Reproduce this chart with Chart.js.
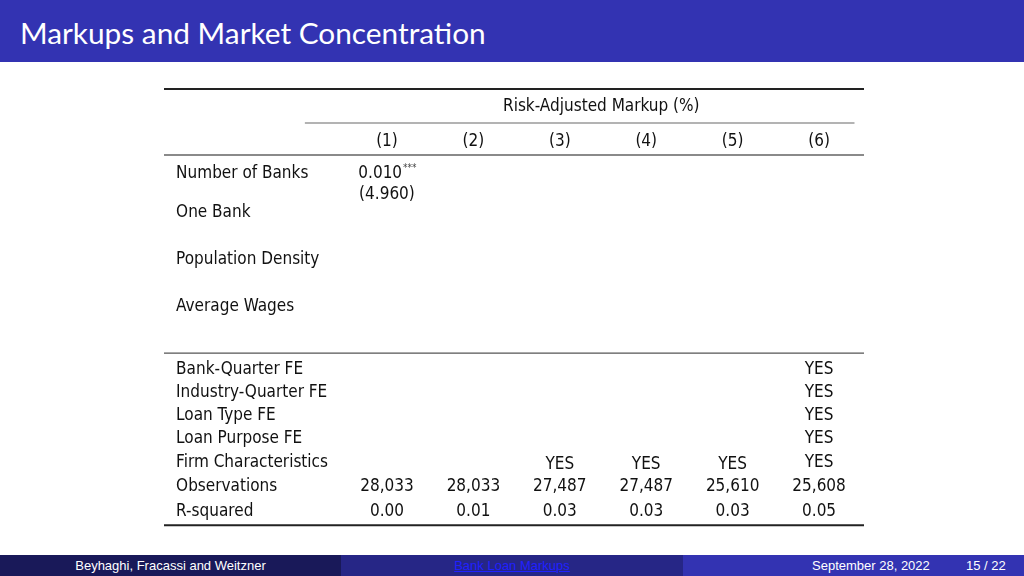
<!DOCTYPE html>
<html>
<head>
<meta charset="utf-8">
<script src="https://cdn.jsdelivr.net/npm/chart.js@4.4.0/dist/chart.umd.min.js"></script>
<style>
  body { margin: 0; width: 1024px; height: 576px; background: #fff; position: relative; overflow: hidden; }
  #head { position: absolute; left: 0; top: 0; width: 1024px; height: 62px; background: #3333b2; }
  #head span { position: absolute; left: 20px; top: 15px; color: #fff; font: 29.8px Lato, "Open Sans", sans-serif; }
  #wrap { position: absolute; left: 164px; top: 80px; width: 700px; height: 460px; }
  .foot { position: absolute; top: 555px; height: 21px; color: #fff; font: 13px "Liberation Sans", Arial, sans-serif; line-height: 21px; }
  #f1 { left: 0; width: 341px; background: #191959; text-align: center; }
  #f2 { left: 341px; width: 342px; background: #262686; text-align: center; }
  #f2 a { color: #2020ff; text-decoration: underline; }
  #f3 { left: 683px; width: 341px; background: #3333b2; }
</style>
</head>
<body>
<div id="head"><span>Markups and Market Concentration</span></div>
<div id="wrap"><canvas id="tbl" width="700" height="460"></canvas></div>
<div class="foot" id="f1">Beyhaghi, Fracassi and Weitzner</div>
<div class="foot" id="f2"><a>Bank Loan Markups</a></div>
<div class="foot" id="f3"><span style="position:absolute;left:129px">September 28, 2022</span><span style="position:absolute;left:283px">15 / 22</span></div>
<script>
// table content
const depVar = "Risk-Adjusted Markup (%)";
const columns = ["(1)", "(2)", "(3)", "(4)", "(5)", "(6)"];
const coefLabels = ["Number of Banks", "One Bank", "Population Density", "Average Wages"];
const numBanksCoef = ["0.010", "", "", "", "", ""];
const numBanksStars = ["***", "", "", "", "", ""];
const numBanksTstat = ["(4.960)", "", "", "", "", ""];
const controlLabels = ["Bank-Quarter FE", "Industry-Quarter FE", "Loan Type FE", "Loan Purpose FE", "Firm Characteristics", "Observations", "R-squared"];
const bankQuarterFE = ["", "", "", "", "", "YES"];
const industryQuarterFE = ["", "", "", "", "", "YES"];
const loanTypeFE = ["", "", "", "", "", "YES"];
const loanPurposeFE = ["", "", "", "", "", "YES"];
const firmChars = ["", "", "YES", "YES", "YES", "YES"];
const observations = [28033, 28033, 27487, 27487, 25610, 25608];
const rSquared = [0.00, 0.01, 0.03, 0.03, 0.03, 0.05];

// row positions (in table line units, top down)
const rowTitle = 1.06, rowCols = 2.55;
const rowCoef = [3.91, 5.57, 7.57, 9.57];
const rowTstat = 4.81;
const rowControls = [12.26, 13.23, 14.21, 15.19, 16.21, 17.23, 18.30];
const rules = [0.38, 3.19, 11.62, 18.94];
const cmidRule = 1.83;

const labelX = -1.44;
const colX = columns.map((c, i) => i + 1);
const font = '17px "DejaVu Sans Condensed", "DejaVu Sans", sans-serif';

function textRow(texts, y, opts) {
  return Object.assign({
    data: colX.map(x => ({ x: x, y: y })),
    texts: texts,
    pointRadius: 0,
    showLine: false
  }, opts || {});
}
function ruleLine(y, x0, x1, color, width) {
  return {
    data: [{ x: x0, y: y }, { x: x1, y: y }],
    showLine: true, pointRadius: 0, borderColor: color, borderWidth: width
  };
}

const datasets = [];
rules.forEach((y, i) => {
  const color = i === 1 ? "#8a8a8a" : (i === 2 ? "#555" : "#222");
  const w = i === 2 ? 1.2 : 2;
  datasets.push(ruleLine(y, -1.58, 6.52, color, w));
});
datasets.push(ruleLine(cmidRule, 0.05, 6.41, "#9a9a9a", 1.5));
datasets.push({ data: [{ x: 3.48, y: rowTitle }], texts: [depVar], pointRadius: 0 });
datasets.push(textRow(columns, rowCols));
datasets.push({ data: coefLabels.map((l, i) => ({ x: labelX, y: rowCoef[i] })), texts: coefLabels, align: "left", pointRadius: 0 });
datasets.push(textRow(numBanksCoef, rowCoef[0], { sups: numBanksStars }));
datasets.push(textRow(numBanksTstat, rowTstat));
datasets.push({ data: controlLabels.map((l, i) => ({ x: labelX, y: rowControls[i] })), texts: controlLabels, align: "left", pointRadius: 0 });
[bankQuarterFE, industryQuarterFE, loanTypeFE, loanPurposeFE].forEach((r, i) => datasets.push(textRow(r, rowControls[i])));
datasets.push({ data: colX.map((x, i) => ({ x: x, y: i < 5 ? rowControls[4] + 0.1 : rowControls[4] })), texts: firmChars, pointRadius: 0 });
datasets.push(textRow(observations.map(v => v.toLocaleString("en-US")), rowControls[5]));
datasets.push(textRow(rSquared.map(v => v.toFixed(2)), rowControls[6]));

const tableText = {
  id: "tableText",
  afterDatasetsDraw(chart) {
    const ctx = chart.ctx;
    const dy = 1.5; // glyphs sit a little high with "middle"
    chart.data.datasets.forEach((ds, i) => {
      if (!ds.texts) return;
      const meta = chart.getDatasetMeta(i);
      meta.data.forEach((pt, j) => {
        const t = ds.texts[j];
        if (!t) return;
        ctx.save();
        ctx.fillStyle = "#111";
        ctx.textBaseline = "middle";
        ctx.font = font;
        const sup = ds.sups ? ds.sups[j] : "";
        if (sup) {
          const w = ctx.measureText(t).width;
          ctx.font = '10px "DejaVu Sans Condensed", sans-serif';
          const s = ctx.measureText(sup).width;
          const left = pt.x - (w + s) / 2;
          ctx.textAlign = "left";
          ctx.fillStyle = "#444";
          ctx.fillText(sup, left + w + 1, pt.y - 3);
          ctx.fillStyle = "#111";
          ctx.font = font;
          ctx.fillText(t, left, pt.y + dy);
        } else {
          ctx.textAlign = ds.align || "center";
          ctx.fillText(t, pt.x, pt.y + dy);
        }
        ctx.restore();
      });
    });
  }
};

new Chart(document.getElementById("tbl"), {
  type: "scatter",
  data: { datasets: datasets },
  options: {
    responsive: false,
    animation: false,
    events: [],
    layout: { padding: 0 },
    plugins: { legend: { display: false }, tooltip: { enabled: false } },
    scales: {
      x: { type: "linear", min: -1.58, max: 6.52, display: false },
      y: { type: "linear", min: 0, max: 19.57, reverse: true, display: false }
    }
  },
  plugins: [tableText]
});
</script>
</body>
</html>
